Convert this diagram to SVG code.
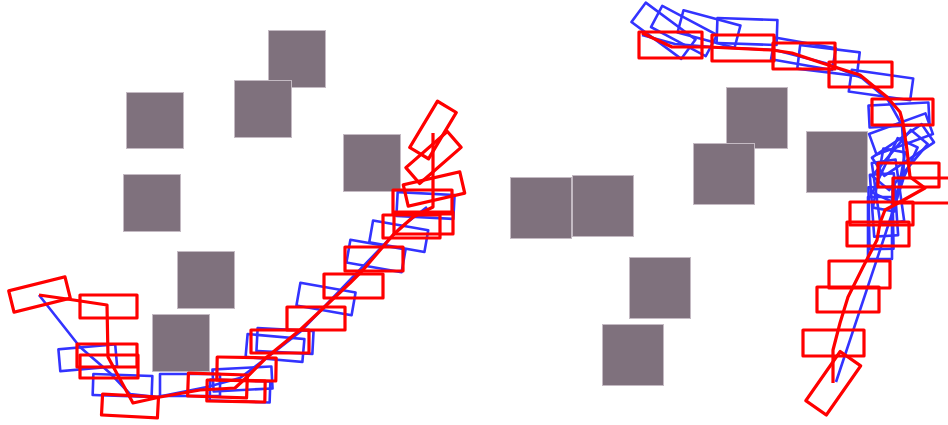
<svg xmlns="http://www.w3.org/2000/svg" width="948" height="425" viewBox="0 0 948 425">
<style>
.obs{fill:#7f717d;stroke:#c4bac3;stroke-width:1}
.b{fill:none;stroke:#3333ff;stroke-width:2.6;stroke-linejoin:round}
.r{fill:none;stroke:#ff0000;stroke-width:3.2;stroke-linejoin:round}
</style>
<rect width="948" height="425" fill="#ffffff"/>
<g id="obstacles">
<rect class="obs" x="126.5" y="92.5" width="57" height="56"/>
<rect class="obs" x="123.5" y="174.5" width="57" height="57"/>
<rect class="obs" x="268.5" y="30.5" width="57" height="57"/>
<rect class="obs" x="234.5" y="80.5" width="57" height="57"/>
<rect class="obs" x="343.5" y="134.5" width="57" height="57"/>
<rect class="obs" x="177.5" y="251.5" width="57" height="57"/>
<rect class="obs" x="152.5" y="314.5" width="57" height="57"/>
<rect class="obs" x="510.5" y="177.5" width="61" height="61"/>
<rect class="obs" x="572.5" y="175.5" width="61" height="61"/>
<rect class="obs" x="726.5" y="87.5" width="61" height="61"/>
<rect class="obs" x="693.5" y="143.5" width="61" height="61"/>
<rect class="obs" x="629.5" y="257.5" width="61" height="61"/>
<rect class="obs" x="602.5" y="324.5" width="61" height="61"/>
<rect class="obs" x="806.5" y="131.5" width="61" height="61"/>
</g>
<g id="left-blue">
<rect class="b" x="59.25" y="346.75" width="57" height="22" transform="rotate(-5 87.75 357.75)"/>
<rect class="b" x="93" y="375" width="59" height="21" transform="rotate(2 122.5 385.5)"/>
<rect class="b" x="160" y="374" width="60" height="22"/>
<rect class="b" x="213" y="368" width="59" height="22" transform="rotate(-3 242.5 379)"/>
<rect class="b" x="210" y="380.5" width="60" height="21" transform="rotate(2 240 391)"/>
<rect class="b" x="246.5" y="336.5" width="57" height="23" transform="rotate(5 275 348)"/>
<rect class="b" x="257" y="329.5" width="56" height="23" transform="rotate(3 285 341)"/>
<rect class="b" x="298" y="287.5" width="56" height="23" transform="rotate(10 326 299)"/>
<rect class="b" x="348" y="244.5" width="56" height="23" transform="rotate(10 376 256)"/>
<rect class="b" x="370.75" y="225.25" width="56" height="22" transform="rotate(10 398.75 236.25)"/>
<rect class="b" x="397" y="193.5" width="57" height="24" transform="rotate(3 425.5 205.5)"/>
<path class="b" d="M39,295 L80,347 L110,373 L130,394 L157,397 L207,387 L240,378 L273,353 L300,332 L350,280 L400,228 L427,207"/>
</g>
<g id="left-red">
<rect class="r" x="10.5" y="283.5" width="58" height="22" transform="rotate(-14 39.5 294.5)"/>
<rect class="r" x="80" y="295" width="57" height="23"/>
<rect class="r" x="77" y="344" width="60" height="23"/>
<rect class="r" x="80" y="355" width="58" height="23"/>
<rect class="r" x="102" y="395.5" width="56" height="21" transform="rotate(3 130 406)"/>
<rect class="r" x="188" y="374" width="59" height="23" transform="rotate(2 217.5 385.5)"/>
<rect class="r" x="207" y="380.5" width="58" height="21" transform="rotate(1 236 391)"/>
<rect class="r" x="217" y="357.5" width="59" height="23" transform="rotate(1 246.5 369)"/>
<rect class="r" x="251" y="330" width="58" height="23"/>
<rect class="r" x="287" y="307" width="58" height="23"/>
<rect class="r" x="324" y="274" width="59" height="24"/>
<rect class="r" x="345" y="247" width="58" height="24"/>
<rect class="r" x="383" y="215" width="57" height="23"/>
<rect class="r" x="393" y="190" width="59" height="24"/>
<rect class="r" x="394" y="212" width="59" height="22"/>
<rect class="r" x="405" y="178" width="58" height="22" transform="rotate(-13 434 189)"/>
<rect class="r" x="406" y="147" width="55" height="21" transform="rotate(-41 433.5 157.5)"/>
<rect class="r" x="406" y="119" width="54" height="22" transform="rotate(-59 433 130)"/>
<path class="r" d="M39,295 L67,299 L107,305 L108,357 L115,370 L133,403 L160,397 L200,390 L235,388 L247,377 L267,357 L300,330 L350,283 L363,270 L393,235 L413,217 L433,207 L433,133"/>
</g>
<g id="right-blue">
<rect class="b" x="632.5" y="18.75" width="62" height="24" transform="rotate(36.5 663.5 30.75)"/>
<rect class="b" x="653" y="19" width="62" height="24" transform="rotate(28 684 31)"/>
<rect class="b" x="679.5" y="17.5" width="59" height="23" transform="rotate(15 709 29)"/>
<rect class="b" x="717" y="19" width="60" height="25" transform="rotate(2 747 31.5)"/>
<rect class="b" x="772.5" y="42.75" width="62" height="22" transform="rotate(10 803.5 53.75)"/>
<rect class="b" x="798.5" y="48.5" width="60" height="24" transform="rotate(7 828.5 60.5)"/>
<rect class="b" x="850" y="74" width="62" height="22" transform="rotate(8 881 85)"/>
<rect class="b" x="869" y="104" width="60" height="22" transform="rotate(-3 899 115)"/>
<rect class="b" x="871" y="123" width="60" height="22" transform="rotate(-20 901 134)"/>
<rect class="b" x="873" y="139" width="60" height="22" transform="rotate(-34 903 150)"/>
<rect class="b" x="870" y="149" width="60" height="22" transform="rotate(-50 900 160)"/>
<rect class="b" x="865" y="159" width="60" height="22" transform="rotate(-65 895 170)"/>
<rect class="b" x="859" y="169" width="60" height="22" transform="rotate(-80 889 180)"/>
<rect class="b" x="857" y="180" width="62" height="24" transform="rotate(82 888 192)"/>
<rect class="b" x="853" y="193" width="62" height="24" transform="rotate(86 884 205)"/>
<rect class="b" x="850" y="206" width="62" height="24" transform="rotate(89 881 218)"/>
<rect class="b" x="849" y="216" width="62" height="24" transform="rotate(90 880 228)"/>
<path class="b" d="M642,35 L675,44 L712,47 L775,50 L825,63 L862,78 L888,100 L902,125 L904,160 L903,180 L885,235 L836,382"/>
</g>
<g id="right-red">
<rect class="r" x="639" y="32" width="63" height="26"/>
<rect class="r" x="712" y="35" width="62" height="26"/>
<rect class="r" x="773" y="43" width="62" height="26"/>
<rect class="r" x="829" y="62" width="63" height="25"/>
<rect class="r" x="872" y="99" width="61" height="26"/>
<rect class="r" x="878" y="163" width="61" height="24"/>
<rect class="r" x="893" y="178" width="62" height="25"/>
<rect class="r" x="850" y="202" width="63" height="23"/>
<rect class="r" x="847" y="222" width="62" height="24"/>
<rect class="r" x="829" y="261" width="61" height="27"/>
<rect class="r" x="817" y="287" width="62" height="25"/>
<rect class="r" x="803" y="330" width="61" height="26"/>
<rect class="r" x="803.25" y="370.75" width="60" height="25" transform="rotate(-55 833.25 383.25)"/>
<path class="r" d="M642,33 L672,47 L708,47 L772,50 L792,53 L822,63 L860,75 L887,97 L900,112 L903,123 L907,150 L910,177 L925,188 L900,202 L885,210 L880,223 L877,240 L863,267 L848,297 L840,323 L833,350 L833,383"/>
</g>
</svg>
